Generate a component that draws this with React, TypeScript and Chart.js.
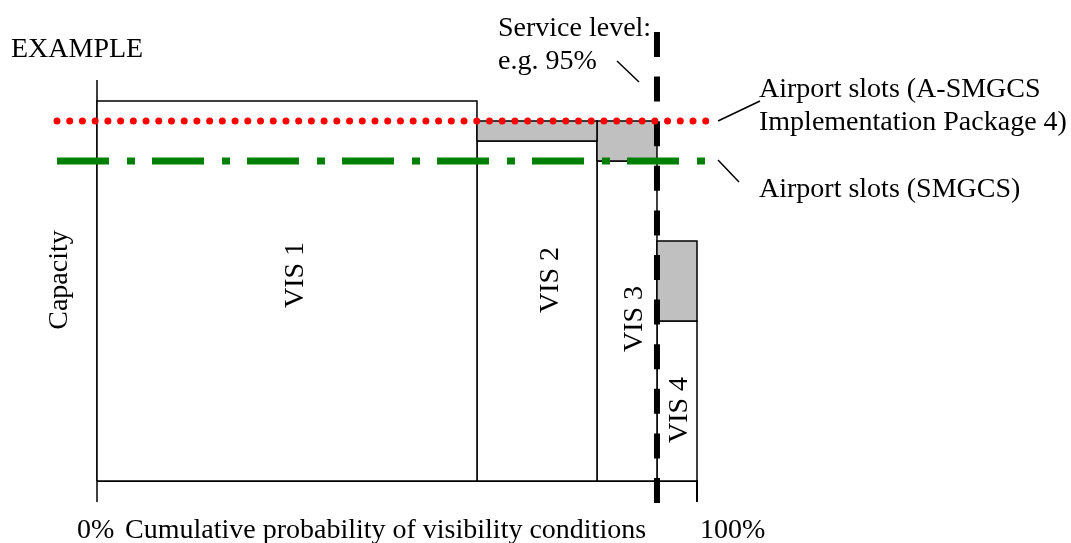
import React, { useEffect, useRef } from "react";
import { Chart, registerables } from "chart.js";

Chart.register(...registerables);

// ---- data ----
const categories = ["VIS 1", "VIS 2", "VIS 3", "VIS 4"];
const cumulativeProbability = [63.33, 83.33, 93.33, 100]; // % (right edge of each band)
const capacity = [95, 85, 80, 40]; // capacity in each visibility condition
const enhancedCapacity = [null, 90, 90, 60]; // capacity with A-SMGCS (grey part)
const slotsASMGCS = 90;
const slotsSMGCS = 80;
const serviceLevel = 93.33;
const xTickLabels = ["0%", "100%"];
const xTickValues = [0, 100];

const FONT = '28px "Liberation Serif", "Times New Roman", serif';

// full-canvas chart area mapping
const X_MIN = -97 / 6;
const X_MAX = (1071 - 97) / 6;
const Y_MAX = 481 / 4;
const Y_MIN = (481 - 543) / 4;

function rectPoints(x0: number, x1: number, y0: number, y1: number) {
  return [
    { x: x0, y: y0 },
    { x: x0, y: y1 },
    { x: x1, y: y1 },
    { x: x1, y: y0 },
    { x: x0, y: y0 },
  ];
}

const textPlugin = {
  id: "textAnnotations",
  afterDraw(chart: any) {
    const ctx = chart.ctx as CanvasRenderingContext2D;
    const xs = chart.scales.x;
    ctx.save();
    ctx.fillStyle = "#000";
    ctx.strokeStyle = "#000";
    ctx.font = FONT;
    ctx.textBaseline = "alphabetic";
    ctx.textAlign = "left";

    ctx.fillText("EXAMPLE", 11, 57);
    ctx.fillText("Service level:", 498, 36);
    ctx.fillText("e.g. 95%", 498, 69);
    ctx.fillText("Airport slots (A-SMGCS", 759, 97);
    ctx.fillText("Implementation Package 4)", 759, 130);
    ctx.fillText("Airport slots (SMGCS)", 759, 197);

    // x tick labels and axis title
    ctx.fillText(xTickLabels[0], xs.getPixelForValue(xTickValues[0]) - 20, 538);
    ctx.fillText("Cumulative probability of visibility conditions", 125, 538);
    ctx.fillText(xTickLabels[1], xs.getPixelForValue(xTickValues[1]) + 3, 538);

    // rotated texts
    const rot = (t: string, bx: number, cy: number) => {
      ctx.save();
      ctx.translate(bx, cy);
      ctx.rotate(-Math.PI / 2);
      ctx.textAlign = "center";
      ctx.fillText(t, 0, 0);
      ctx.restore();
    };
    rot("Capacity", 67, 280);
    const labelPos = [
      [303, 275],
      [558, 280],
      [642, 319],
      [687, 410],
    ];
    categories.forEach((c, i) => rot(c, labelPos[i][0], labelPos[i][1]));

    // leader lines
    ctx.lineWidth = 1.5;
    const seg = (a: number, b: number, c: number, d: number) => {
      ctx.beginPath();
      ctx.moveTo(a, b);
      ctx.lineTo(c, d);
      ctx.stroke();
    };
    seg(617, 61, 639, 82);
    seg(718, 121, 760, 101);
    seg(718, 160, 739, 182);
    ctx.restore();
  },
};

export default function App() {
  const ref = useRef<HTMLCanvasElement | null>(null);

  useEffect(() => {
    if (!ref.current) return;
    const datasets: any[] = [];

    // white capacity rectangles
    categories.forEach((c, i) => {
      const x0 = i === 0 ? 0 : cumulativeProbability[i - 1];
      const x1 = cumulativeProbability[i];
      datasets.push({
        label: c,
        data: rectPoints(x0, x1, 0, capacity[i]),
        borderColor: "#000",
        borderWidth: 1.5,
        backgroundColor: "#ffffff",
        fill: "shape",
        pointRadius: 0,
        tension: 0,
        borderJoinStyle: "miter",
        order: 5,
      });
    });
    // grey increments
    categories.forEach((c, i) => {
      const e = enhancedCapacity[i];
      if (e == null) return;
      const x0 = i === 0 ? 0 : cumulativeProbability[i - 1];
      const x1 = cumulativeProbability[i];
      datasets.push({
        label: c + " A-SMGCS",
        data: rectPoints(x0, x1, capacity[i], e),
        borderColor: "#000",
        borderWidth: 1.5,
        backgroundColor: "#c0c0c0",
        fill: "shape",
        pointRadius: 0,
        tension: 0,
        borderJoinStyle: "miter",
        order: 4,
      });
    });
    // axes
    datasets.push({
      label: "y-axis",
      data: [
        { x: 0, y: 100.25 },
        { x: 0, y: -5.25 },
      ],
      borderColor: "#000",
      borderWidth: 1.5,
      pointRadius: 0,
      fill: false,
      order: 6,
    });
    datasets.push({
      label: "x-axis",
      data: [
        { x: 0, y: 0 },
        { x: 100, y: 0 },
        { x: 100, y: -5.25 },
      ],
      borderColor: "#000",
      borderWidth: 2,
      pointRadius: 0,
      fill: false,
      borderJoinStyle: "miter",
      order: 6,
    });
    // service level
    datasets.push({
      label: "Service level",
      data: [
        { x: serviceLevel, y: (481 - 32) / 4 },
        { x: serviceLevel, y: (481 - 506) / 4 },
      ],
      borderColor: "#000",
      borderWidth: 6,
      borderDash: [25, 19.6],
      pointRadius: 0,
      fill: false,
      order: 3,
    });
    // SMGCS slots
    datasets.push({
      label: "Airport slots (SMGCS)",
      data: [
        { x: -40 / 6, y: slotsSMGCS },
        { x: 101.5, y: slotsSMGCS },
      ],
      borderColor: "#008000",
      borderWidth: 7,
      borderDash: [52, 18, 8, 17],
      borderCapStyle: "butt",
      pointRadius: 0,
      fill: false,
      order: 2,
    });
    // A-SMGCS slots
    datasets.push({
      label: "Airport slots (A-SMGCS)",
      data: [
        { x: -40 / 6, y: slotsASMGCS },
        { x: 103.5, y: slotsASMGCS },
      ],
      borderColor: "#ff0000",
      borderWidth: 7,
      borderDash: [0, 12.72],
      borderCapStyle: "round",
      pointRadius: 0,
      fill: false,
      order: 1,
    });

    const chart = new Chart(ref.current, {
      type: "line",
      data: { datasets },
      options: {
        animation: false,
        responsive: true,
        maintainAspectRatio: false,
        layout: { padding: 0 },
        events: [],
        plugins: {
          legend: { display: false },
          tooltip: { enabled: false },
          title: { display: false },
        },
        scales: {
          x: { type: "linear", min: X_MIN, max: X_MAX, display: false },
          y: { type: "linear", min: Y_MIN, max: Y_MAX, display: false },
        },
      },
      plugins: [textPlugin],
    });
    return () => chart.destroy();
  }, []);

  return (
    <div
      style={{
        position: "absolute",
        left: 0,
        top: 0,
        width: 1071,
        height: 543,
        background: "#fff",
      }}
    >
      <canvas ref={ref} />
    </div>
  );
}
